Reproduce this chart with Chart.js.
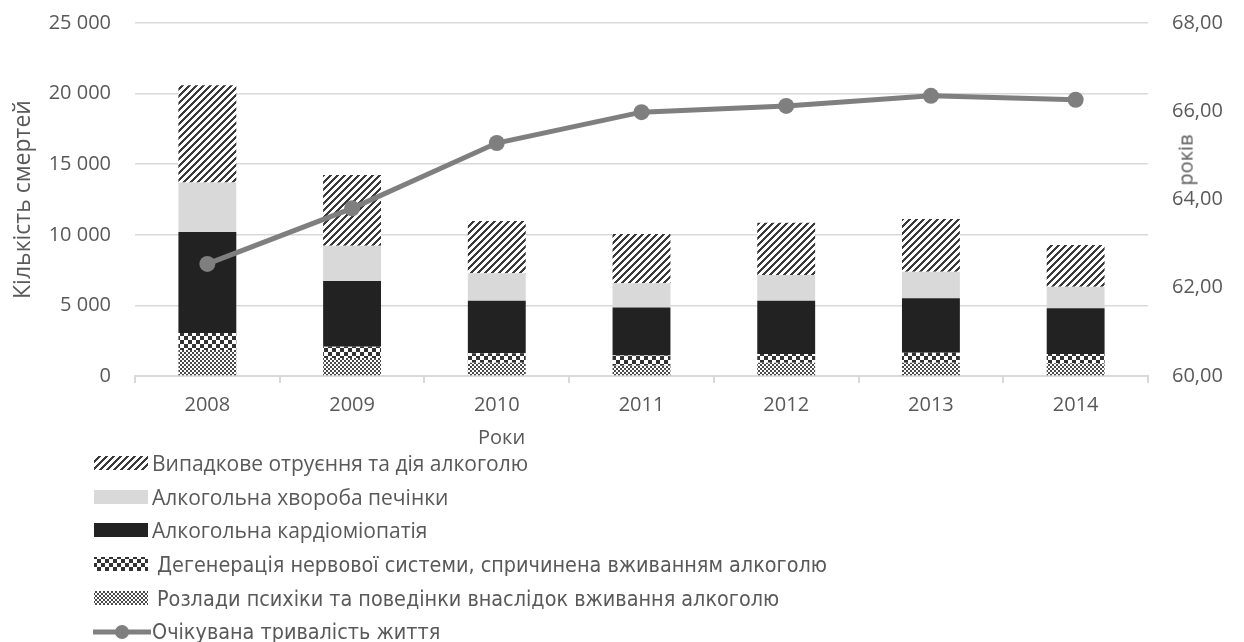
<!DOCTYPE html>
<html lang="uk">
<head>
<meta charset="utf-8">
<title>Смертність, пов'язана з алкоголем</title>
<script src="https://cdn.jsdelivr.net/npm/chart.js@4/dist/chart.umd.min.js"></script>
<style>
  body { margin: 0; background: #fff; font-family: "Open Sans", sans-serif; color: #595959; }
  #wrap { position: relative; width: 1244px; height: 642px; overflow: hidden; }
  #chart { position: absolute; left: 0; top: 0; }
  .lbl { position: absolute; font-size: 20px; white-space: nowrap; line-height: 24px; }
  #legend { position: absolute; left: 93px; top: 446px; font-size: 21px; }
  .row { display: flex; align-items: center; height: 33.8px; }
  .row canvas { margin-right: 1px; }
  .narrow { font-family: "Liberation Sans Narrow", "DejaVu Sans Condensed", sans-serif; font-size: 21.4px; }
</style>
</head>
<body>
<div id="wrap">
  <canvas id="chart" width="1244" height="642"></canvas>
  <div class="lbl" id="xTitle" style="left:478px; top:425px;">Роки</div>
  <div class="lbl" id="y1Title" style="left:1160px; top:148px; transform: rotate(-90deg); transform-origin: 50% 50%;">років</div>
  <div id="legend"></div>
</div>
<script>
// Data
const years = ["2008", "2009", "2010", "2011", "2012", "2013", "2014"];
const mental = [1840, 1270, 940, 730, 940, 940, 900];        // Розлади психіки
const nervous = [1210, 810, 670, 730, 620, 710, 660];         // Дегенерація нервової системи
const cardio = [7150, 4650, 3720, 3400, 3770, 3850, 3230];    // Кардіоміопатія
const liver = [3500, 2490, 1940, 1700, 1820, 1890, 1530];     // Хвороба печінки
const poisoning = [6900, 5010, 3710, 3500, 3710, 3730, 2960]; // Випадкове отруєння
const lifeExpectancy = [62.54, 63.80, 65.28, 65.98, 66.12, 66.35, 66.26];

// Fill patterns similar to Excel's hatches
function makePattern(size, isDark, dark) {
  const c = document.createElement("canvas");
  c.width = size; c.height = size;
  const g = c.getContext("2d");
  g.fillStyle = "#ffffff";
  g.fillRect(0, 0, size, size);
  g.fillStyle = dark;
  for (let x = 0; x < size; x++) {
    for (let y = 0; y < size; y++) {
      if (isDark(x, y)) g.fillRect(x, y, 1, 1);
    }
  }
  return g.createPattern(c, "repeat");
}

function pattern(kind) {
  if (kind === "diag") return makePattern(7, (x, y) => ((x + y) % 7) < 3, "#3a3a3a");
  if (kind === "bigcheck") return makePattern(8, (x, y) => ((Math.floor(x / 4) + Math.floor(y / 4)) % 2) === 0, "#333333");
  return makePattern(4, (x, y) => ((Math.floor(x / 2) + Math.floor(y / 2)) % 2) === 0, "#4a4a4a");
}

const barDatasets = [
  { label: "Розлади психіки та поведінки внаслідок вживання алкоголю", data: mental, fill: "smallcheck" },
  { label: "Дегенерація нервової системи, спричинена вживанням алкоголю", data: nervous, fill: "bigcheck" },
  { label: "Алкогольна кардіоміопатія", data: cardio, fill: "#222222" },
  { label: "Алкогольна хвороба печінки", data: liver, fill: "#d9d9d9" },
  { label: "Випадкове отруєння та дія алкоголю", data: poisoning, fill: "diag" }
];

function fillFor(f) {
  return f.startsWith("#") ? f : pattern(f);
}

const datasets = barDatasets.map((d) => ({
  type: "bar",
  label: d.label,
  data: d.data,
  backgroundColor: fillFor(d.fill),
  borderWidth: 0,
  yAxisID: "y",
  stack: "deaths",
  order: 1,
  barPercentage: 0.4,
  categoryPercentage: 1
}));

datasets.push({
  type: "line",
  label: "Очікувана тривалість життя",
  data: lifeExpectancy,
  borderColor: "#7f7f7f",
  backgroundColor: "#7f7f7f",
  borderWidth: 5,
  pointRadius: 8,
  pointHoverRadius: 8,
  pointBorderWidth: 0,
  yAxisID: "y1",
  order: 0
});

const tickColor = "#595959";
const gridColor = "#d9d9d9";

// vertical scales: fixed width and no extra top/bottom padding from labels
function fixWidth(w) {
  return (s) => {
    s.width = w;
    s.paddingTop = 0;
    s.paddingBottom = 0;
  };
}

const chart = new Chart(document.getElementById("chart"), {
  data: { labels: years, datasets: datasets },
  options: {
    responsive: false,
    devicePixelRatio: 1,
    animation: false,
    layout: { padding: { left: 0, right: 0, top: 23, bottom: 226 } },
    plugins: {
      legend: { display: false },
      tooltip: { enabled: false }
    },
    scales: {
      x: {
        stacked: true,
        grid: { drawOnChartArea: false, drawTicks: true, tickLength: 7, color: gridColor, lineWidth: 2 },
        border: { color: gridColor, width: 2 },
        ticks: { color: tickColor, font: { family: "'Open Sans'", size: 20 }, padding: 10 },
        afterFit: (s) => { s.height = 40; s.paddingLeft = 0; s.paddingRight = 0; }
      },
      y: {
        stacked: true,
        position: "left",
        min: 0,
        max: 25000,
        ticks: {
          stepSize: 5000,
          color: tickColor,
          padding: 24,
          font: { family: "'Open Sans'", size: 20 },
          callback: (v) => String(v).replace(/\B(?=(\d{3})+(?!\d))/g, " ")
        },
        grid: { color: gridColor, lineWidth: 1.5, drawTicks: false },
        border: { display: false },
        title: {
          display: true,
          text: "Кількість смертей",
          color: tickColor,
          font: { family: "'Open Sans'", size: 23 },
          padding: { top: 10, bottom: 0 }
        },
        afterFit: fixWidth(135)
      },
      y1: {
        position: "right",
        min: 60,
        max: 68,
        ticks: {
          stepSize: 2,
          color: tickColor,
          padding: 24,
          font: { family: "'Open Sans'", size: 20 },
          callback: (v) => v.toFixed(2).replace(".", ",")
        },
        grid: { drawOnChartArea: false, drawTicks: false },
        border: { display: false },
        afterFit: fixWidth(96)
      }
    }
  }
});

// HTML legend, top to bottom like the original
const legend = document.getElementById("legend");
function addRow(text, drawSwatch, gap, narrow) {
  const row = document.createElement("div");
  row.className = "row";
  const sw = document.createElement("canvas");
  sw.width = 58; sw.height = 18;
  drawSwatch(sw.getContext("2d"));
  const span = document.createElement("span");
  span.textContent = text;
  span.style.marginLeft = gap + "px";
  if (narrow) span.className = "narrow";
  row.appendChild(sw);
  row.appendChild(span);
  legend.appendChild(row);
}

const lineDs = chart.data.datasets[chart.data.datasets.length - 1];
const gaps = [0, 0, 0, 5, 5];
chart.data.datasets.slice(0, 5).reverse().forEach((ds, i) => {
  addRow(ds.label, (g) => {
    g.fillStyle = ds.backgroundColor;
    g.fillRect(1, 2, 54, 14);
  }, gaps[i], i >= 3);
});
addRow(lineDs.label, (g) => {
  g.strokeStyle = lineDs.borderColor;
  g.lineWidth = 5;
  g.beginPath(); g.moveTo(0, 9); g.lineTo(58, 9); g.stroke();
  g.fillStyle = lineDs.backgroundColor;
  g.beginPath(); g.arc(29, 9, 7, 0, Math.PI * 2); g.fill();
}, 0, true);
</script>
</body>
</html>
